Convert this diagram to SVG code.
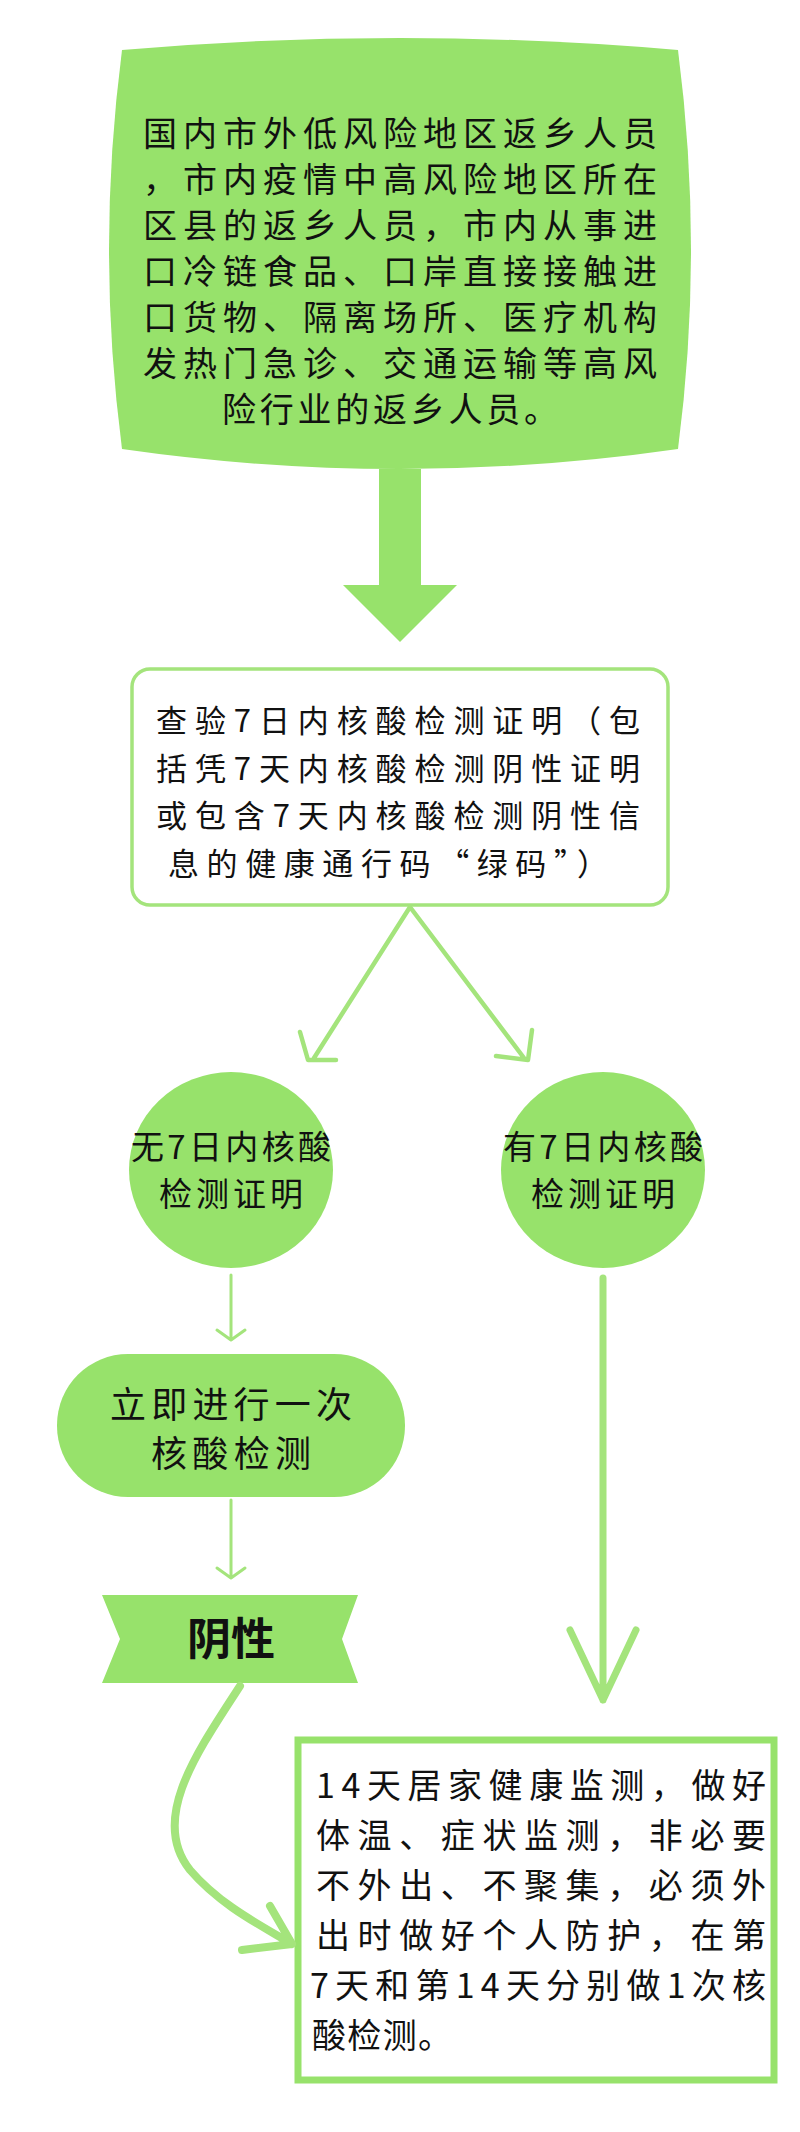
<svg xmlns="http://www.w3.org/2000/svg" width="800" height="2132" viewBox="0 0 800 2132">
<style>
text{font-family:"Noto Sans CJK SC","Noto Sans",sans-serif;fill:#111}
.f{fill:#97e26b}
.ln{stroke:#a4e47c;fill:none;stroke-linecap:round;stroke-linejoin:round}
</style>
<rect width="800" height="2132" fill="#fff"/>
<g id="n1">
<path class="f" d="M122,50 Q400,26 678,50 Q704,250 678,449 Q400,489 122,449 Q96,250 122,50 Z"/>
<g font-size="34">
<text x="143" y="146" textLength="514" lengthAdjust="spacing">国内市外低风险地区返乡人员</text>
<text x="143" y="192" textLength="514" lengthAdjust="spacing">，市内疫情中高风险地区所在</text>
<text x="143" y="238" textLength="514" lengthAdjust="spacing">区县的返乡人员，市内从事进</text>
<text x="143" y="284" textLength="514" lengthAdjust="spacing">口冷链食品、口岸直接接触进</text>
<text x="143" y="330" textLength="514" lengthAdjust="spacing">口货物、隔离场所、医疗机构</text>
<text x="143" y="376" textLength="514" lengthAdjust="spacing">发热门急诊、交通运输等高风</text>
<text x="222" y="422" textLength="336" lengthAdjust="spacing">险行业的返乡人员。</text>
</g>
</g>
<g id="n2">
<rect x="132" y="669" width="536" height="236" rx="18" fill="#fff" stroke="#a4e47c" stroke-width="3.5"/>
<g font-size="31">
<text x="156" y="732" textLength="484" lengthAdjust="spacing">查验7日内核酸检测证明（包</text>
<text x="156" y="780" textLength="484" lengthAdjust="spacing">括凭7天内核酸检测阴性证明</text>
<text x="156" y="827" textLength="484" lengthAdjust="spacing">或包含7天内核酸检测阴性信</text>
<text x="168" y="875" textLength="440" lengthAdjust="spacing">息的健康通行码“绿码”）</text>
</g>
</g>
<g id="n3">
<ellipse class="f" cx="231" cy="1170" rx="102" ry="98"/>
<text x="231" y="1159" font-size="33" text-anchor="middle" textLength="200" lengthAdjust="spacing">无7日内核酸</text>
<text x="231" y="1206" font-size="33" text-anchor="middle" textLength="144" lengthAdjust="spacing">检测证明</text>
</g>
<g id="n4">
<ellipse class="f" cx="603" cy="1170" rx="102" ry="98"/>
<text x="603" y="1159" font-size="33" text-anchor="middle" textLength="200" lengthAdjust="spacing">有7日内核酸</text>
<text x="603" y="1206" font-size="33" text-anchor="middle" textLength="144" lengthAdjust="spacing">检测证明</text>
</g>
<g id="n5">
<rect class="f" x="57" y="1354" width="348" height="143" rx="71"/>
<text x="231" y="1418" font-size="36" text-anchor="middle" textLength="242" lengthAdjust="spacing">立即进行一次</text>
<text x="231" y="1467" font-size="36" text-anchor="middle" textLength="160" lengthAdjust="spacing">核酸检测</text>
</g>
<g id="n6">
<polygon class="f" points="102,1595 358,1595 342,1639 358,1683 102,1683 120,1639"/>
<text x="231" y="1655" font-size="44" font-weight="bold" text-anchor="middle">阴性</text>
</g>
<g id="n7">
<rect x="298" y="1740" width="476" height="340" fill="#fff" stroke="#97e26b" stroke-width="7"/>
<g font-size="34">
<text x="316" y="1798" textLength="450" lengthAdjust="spacing">14天居家健康监测，做好</text>
<text x="316" y="1848" textLength="450" lengthAdjust="spacing">体温、症状监测，非必要</text>
<text x="316" y="1898" textLength="450" lengthAdjust="spacing">不外出、不聚集，必须外</text>
<text x="316" y="1948" textLength="450" lengthAdjust="spacing">出时做好个人防护，在第</text>
<text x="310" y="1998" textLength="456" lengthAdjust="spacing">7天和第14天分别做1次核</text>
<text x="312" y="2048" textLength="140" lengthAdjust="spacing">酸检测。</text>
</g>
</g>
<g id="connectors">
<polygon class="f" points="379,469 421,469 421,585 457,585 400,642 343,585 379,585"/>
<path class="ln" stroke-width="4.5" d="M410,907 L314,1058 M300,1032 L308,1060 L336,1060 M410,907 L524,1058 M496,1056 L528,1060 L532,1030"/>
<path class="ln" stroke-width="3" d="M231,1275 L231,1340 M217,1330 L231,1340 L245,1330"/>
<path class="ln" stroke-width="3" d="M231,1500 L231,1578 M217,1568 L231,1578 L245,1568"/>
<path class="ln" stroke="#97e26b" stroke-width="7" d="M603,1278 L603,1700 M570,1630 L603,1700 L636,1630"/>
<path class="ln" stroke="#97e26b" stroke-width="8" d="M240,1686 C195,1755 150,1820 190,1870 C220,1905 260,1925 292,1944 M270,1906 L292,1944 L242,1950"/>
</g>
</svg>
